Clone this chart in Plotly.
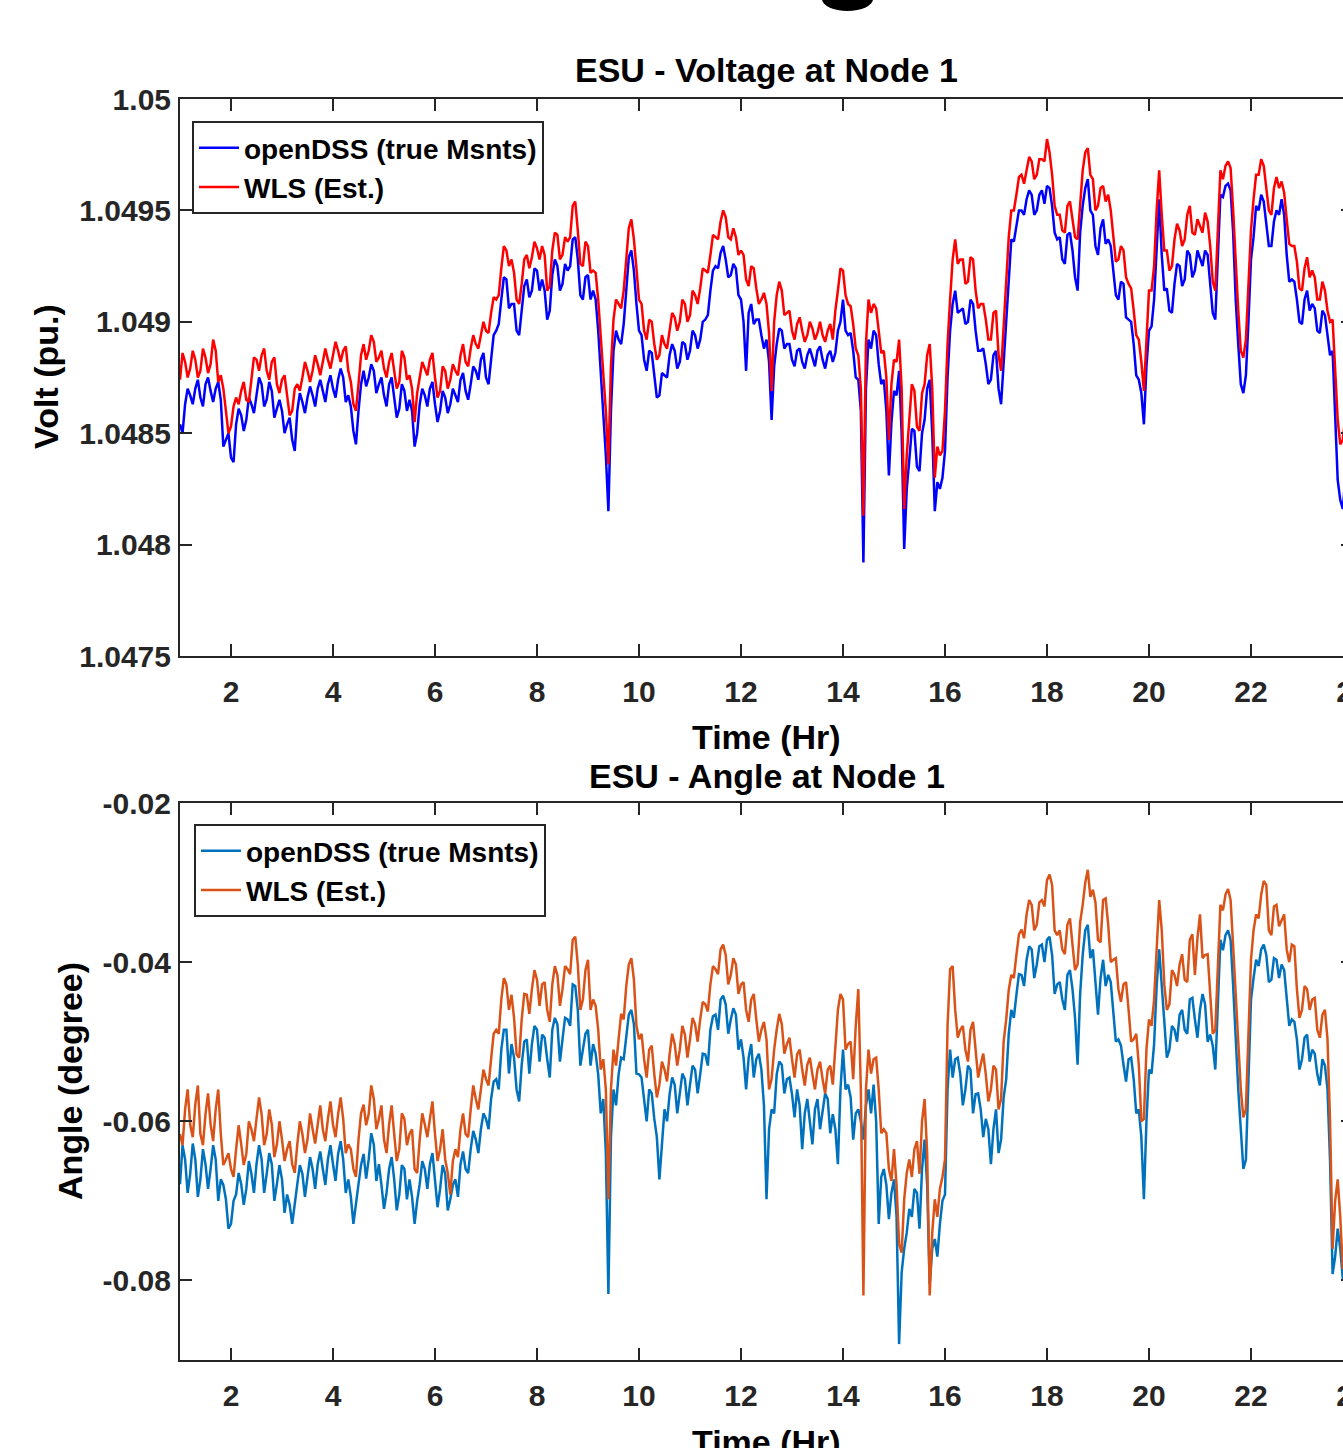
import plotly.graph_objects as go

# ---------------- data ----------------
# samples every 0.1 h from 1.0 h to 24.0 h
hours = [round(1.0 + 0.1 * i, 1) for i in range(231)]
# in-between samples (t + 0.05 h) that carry the short-term fluctuation
hours_mid = [round(1.05 + 0.1 * i, 2) for i in range(230)]

volt_opendss = [
    1.04854, 1.04863, 1.04867, 1.04870, 1.04866, 1.04872, 1.04869, 1.04870, 1.04865, 1.04847,
    1.04839, 1.04854, 1.04858, 1.04856, 1.04863, 1.04867, 1.04872, 1.04865, 1.04869, 1.04861,
    1.04860, 1.04854, 1.04847, 1.04860, 1.04864, 1.04866, 1.04867, 1.04870, 1.04869, 1.04872,
    1.04870, 1.04874, 1.04875, 1.04867, 1.04851, 1.04860, 1.04878, 1.04875, 1.04878, 1.04872,
    1.04867, 1.04872, 1.04866, 1.04861, 1.04869, 1.04865, 1.04844, 1.04863, 1.04867, 1.04870,
    1.04863, 1.04860, 1.04866, 1.04863, 1.04867, 1.04874, 1.04869, 1.04872, 1.04878, 1.04883,
    1.04875, 1.04883, 1.04896, 1.04910, 1.04919, 1.04908, 1.04896, 1.04905, 1.04919, 1.04914,
    1.04923, 1.04919, 1.04901, 1.04921, 1.04925, 1.04917, 1.04923, 1.04937, 1.04928, 1.04910,
    1.04921, 1.04914, 1.04896, 1.04860, 1.04815, 1.04887, 1.04892, 1.04899, 1.04929, 1.04923,
    1.04896, 1.04883, 1.04887, 1.04875, 1.04867, 1.04876, 1.04885, 1.04887, 1.04882, 1.04890,
    1.04887, 1.04894, 1.04892, 1.04901, 1.04914, 1.04925, 1.04931, 1.04928, 1.04921, 1.04924,
    1.04910, 1.04878, 1.04908, 1.04901, 1.04894, 1.04892, 1.04856, 1.04890, 1.04896, 1.04890,
    1.04883, 1.04887, 1.04882, 1.04885, 1.04884, 1.04887, 1.04883, 1.04885, 1.04882, 1.04896,
    1.04910, 1.04894, 1.04887, 1.04874, 1.04792, 1.04892, 1.04896, 1.04881, 1.04874, 1.04831,
    1.04869, 1.04878, 1.04798, 1.04838, 1.04851, 1.04833, 1.04856, 1.04874, 1.04815, 1.04825,
    1.04842, 1.04896, 1.04914, 1.04905, 1.04899, 1.04910, 1.04896, 1.04887, 1.04881, 1.04874,
    1.04887, 1.04863, 1.04896, 1.04937, 1.04943, 1.04950, 1.04955, 1.04957, 1.04950, 1.04959,
    1.04961, 1.04952, 1.04937, 1.04928, 1.04939, 1.04932, 1.04914, 1.04952, 1.04964, 1.04948,
    1.04930, 1.04946, 1.04937, 1.04923, 1.04910, 1.04917, 1.04901, 1.04890, 1.04874, 1.04854,
    1.04896, 1.04910, 1.04955, 1.04914, 1.04905, 1.04917, 1.04925, 1.04919, 1.04930, 1.04923,
    1.04928, 1.04932, 1.04917, 1.04901, 1.04957, 1.04961, 1.04959, 1.04910, 1.04872, 1.04876,
    1.04928, 1.04952, 1.04957, 1.04943, 1.04934, 1.04950, 1.04955, 1.04930, 1.04919, 1.04910,
    1.04899, 1.04914, 1.04908, 1.04896, 1.04905, 1.04894, 1.04887, 1.04829, 1.04816, 1.04833,
    1.04847,
]
volt_opendss_mid = [
    1.04850, 1.04870, 1.04863, 1.04874, 1.04862, 1.04875, 1.04864, 1.04873, 1.04844, 1.04850,
    1.04837, 1.04861, 1.04851, 1.04866, 1.04859, 1.04875, 1.04862, 1.04873, 1.04857, 1.04865,
    1.04850, 1.04857, 1.04842, 1.04868, 1.04859, 1.04871, 1.04862, 1.04874, 1.04864, 1.04876,
    1.04866, 1.04879, 1.04864, 1.04862, 1.04845, 1.04872, 1.04871, 1.04881, 1.04868, 1.04875,
    1.04862, 1.04875, 1.04857, 1.04872, 1.04860, 1.04860, 1.04850, 1.04870, 1.04862, 1.04873,
    1.04855, 1.04869, 1.04859, 1.04870, 1.04864, 1.04877, 1.04865, 1.04880, 1.04874, 1.04886,
    1.04872, 1.04894, 1.04899, 1.04920, 1.04906, 1.04908, 1.04894, 1.04916, 1.04911, 1.04924,
    1.04914, 1.04914, 1.04905, 1.04928, 1.04914, 1.04926, 1.04925, 1.04938, 1.04912, 1.04920,
    1.04910, 1.04910, 1.04878, 1.04840, 1.04860, 1.04896, 1.04890, 1.04915, 1.04932, 1.04908,
    1.04894, 1.04878, 1.04886, 1.04866, 1.04877, 1.04875, 1.04890, 1.04879, 1.04891, 1.04883,
    1.04896, 1.04888, 1.04900, 1.04903, 1.04923, 1.04924, 1.04934, 1.04920, 1.04926, 1.04912,
    1.04900, 1.04904, 1.04899, 1.04901, 1.04888, 1.04882, 1.04880, 1.04897, 1.04888, 1.04890,
    1.04880, 1.04888, 1.04879, 1.04888, 1.04880, 1.04889, 1.04879, 1.04887, 1.04886, 1.04900,
    1.04896, 1.04895, 1.04875, 1.04860, 1.04870, 1.04888, 1.04894, 1.04872, 1.04860, 1.04855,
    1.04867, 1.04850, 1.04825, 1.04852, 1.04835, 1.04850, 1.04870, 1.04850, 1.04828, 1.04830,
    1.04875, 1.04908, 1.04904, 1.04906, 1.04900, 1.04908, 1.04887, 1.04888, 1.04872, 1.04885,
    1.04870, 1.04882, 1.04920, 1.04936, 1.04950, 1.04948, 1.04959, 1.04948, 1.04957, 1.04953,
    1.04960, 1.04940, 1.04938, 1.04926, 1.04940, 1.04920, 1.04940, 1.04960, 1.04950, 1.04934,
    1.04942, 1.04935, 1.04934, 1.04912, 1.04918, 1.04902, 1.04900, 1.04876, 1.04868, 1.04880,
    1.04898, 1.04930, 1.04930, 1.04915, 1.04904, 1.04926, 1.04916, 1.04932, 1.04920, 1.04932,
    1.04925, 1.04930, 1.04904, 1.04930, 1.04956, 1.04962, 1.04940, 1.04890, 1.04868, 1.04900,
    1.04938, 1.04950, 1.04954, 1.04934, 1.04945, 1.04948, 1.04948, 1.04918, 1.04918, 1.04900,
    1.04910, 1.04905, 1.04906, 1.04895, 1.04903, 1.04885, 1.04860, 1.04820, 1.04830, 1.04838,
]

volt_wls = [
    1.04874, 1.04882, 1.04879, 1.04883, 1.04878, 1.04884, 1.04881, 1.04887, 1.04876, 1.04860,
    1.04853, 1.04866, 1.04869, 1.04865, 1.04874, 1.04883, 1.04885, 1.04878, 1.04882, 1.04872,
    1.04874, 1.04867, 1.04860, 1.04872, 1.04875, 1.04878, 1.04878, 1.04881, 1.04882, 1.04883,
    1.04885, 1.04887, 1.04887, 1.04878, 1.04863, 1.04872, 1.04890, 1.04887, 1.04891, 1.04884,
    1.04879, 1.04882, 1.04878, 1.04873, 1.04884, 1.04876, 1.04855, 1.04875, 1.04879, 1.04883,
    1.04875, 1.04869, 1.04878, 1.04874, 1.04878, 1.04885, 1.04882, 1.04888, 1.04890, 1.04894,
    1.04896, 1.04904, 1.04910, 1.04924, 1.04932, 1.04928, 1.04910, 1.04917, 1.04930, 1.04929,
    1.04933, 1.04934, 1.04914, 1.04932, 1.04939, 1.04930, 1.04936, 1.04952, 1.04941, 1.04925,
    1.04934, 1.04923, 1.04910, 1.04874, 1.04836, 1.04901, 1.04908, 1.04914, 1.04942, 1.04937,
    1.04910, 1.04896, 1.04901, 1.04890, 1.04885, 1.04890, 1.04896, 1.04902, 1.04900, 1.04908,
    1.04903, 1.04912, 1.04915, 1.04923, 1.04930, 1.04938, 1.04945, 1.04947, 1.04937, 1.04938,
    1.04932, 1.04919, 1.04925, 1.04915, 1.04910, 1.04908, 1.04869, 1.04912, 1.04914, 1.04904,
    1.04896, 1.04899, 1.04896, 1.04894, 1.04897, 1.04895, 1.04894, 1.04896, 1.04892, 1.04914,
    1.04923, 1.04908, 1.04899, 1.04885, 1.04813, 1.04910, 1.04908, 1.04896, 1.04887, 1.04847,
    1.04883, 1.04892, 1.04816, 1.04856, 1.04869, 1.04851, 1.04872, 1.04890, 1.04830, 1.04840,
    1.04860, 1.04910, 1.04937, 1.04928, 1.04917, 1.04929, 1.04914, 1.04908, 1.04901, 1.04892,
    1.04905, 1.04878, 1.04917, 1.04950, 1.04957, 1.04966, 1.04968, 1.04972, 1.04966, 1.04973,
    1.04982, 1.04966, 1.04948, 1.04941, 1.04952, 1.04946, 1.04937, 1.04968, 1.04978, 1.04964,
    1.04952, 1.04961, 1.04957, 1.04937, 1.04928, 1.04932, 1.04917, 1.04905, 1.04892, 1.04869,
    1.04914, 1.04925, 1.04968, 1.04932, 1.04923, 1.04937, 1.04941, 1.04937, 1.04952, 1.04939,
    1.04943, 1.04949, 1.04934, 1.04914, 1.04968, 1.04970, 1.04969, 1.04925, 1.04887, 1.04892,
    1.04941, 1.04966, 1.04973, 1.04959, 1.04948, 1.04965, 1.04963, 1.04946, 1.04934, 1.04927,
    1.04914, 1.04929, 1.04923, 1.04910, 1.04918, 1.04905, 1.04901, 1.04856, 1.04847, 1.04856,
    1.04865,
]
volt_wls_mid = [
    1.04886, 1.04875, 1.04887, 1.04875, 1.04888, 1.04877, 1.04892, 1.04873, 1.04870, 1.04850,
    1.04862, 1.04863, 1.04873, 1.04864, 1.04884, 1.04878, 1.04888, 1.04874, 1.04884, 1.04868,
    1.04876, 1.04858, 1.04870, 1.04869, 1.04882, 1.04873, 1.04885, 1.04876, 1.04888, 1.04879,
    1.04891, 1.04882, 1.04889, 1.04873, 1.04860, 1.04885, 1.04883, 1.04894, 1.04882, 1.04887,
    1.04875, 1.04886, 1.04870, 1.04887, 1.04874, 1.04870, 1.04868, 1.04882, 1.04876, 1.04886,
    1.04866, 1.04880, 1.04870, 1.04881, 1.04876, 1.04890, 1.04880, 1.04894, 1.04888, 1.04900,
    1.04895, 1.04911, 1.04912, 1.04934, 1.04925, 1.04922, 1.04908, 1.04928, 1.04924, 1.04936,
    1.04928, 1.04930, 1.04916, 1.04940, 1.04928, 1.04938, 1.04938, 1.04954, 1.04926, 1.04936,
    1.04922, 1.04922, 1.04892, 1.04860, 1.04880, 1.04910, 1.04906, 1.04930, 1.04946, 1.04924,
    1.04908, 1.04892, 1.04900, 1.04883, 1.04894, 1.04888, 1.04904, 1.04896, 1.04910, 1.04900,
    1.04914, 1.04908, 1.04924, 1.04922, 1.04939, 1.04937, 1.04950, 1.04938, 1.04942, 1.04930,
    1.04930, 1.04916, 1.04924, 1.04908, 1.04913, 1.04895, 1.04900, 1.04918, 1.04903, 1.04905,
    1.04892, 1.04902, 1.04891, 1.04900, 1.04892, 1.04900, 1.04891, 1.04899, 1.04905, 1.04924,
    1.04912, 1.04907, 1.04888, 1.04870, 1.04890, 1.04904, 1.04906, 1.04886, 1.04875, 1.04872,
    1.04882, 1.04870, 1.04840, 1.04872, 1.04853, 1.04868, 1.04885, 1.04870, 1.04844, 1.04842,
    1.04890, 1.04928, 1.04926, 1.04928, 1.04918, 1.04928, 1.04906, 1.04908, 1.04892, 1.04904,
    1.04885, 1.04900, 1.04938, 1.04950, 1.04965, 1.04962, 1.04974, 1.04964, 1.04973, 1.04972,
    1.04976, 1.04952, 1.04948, 1.04940, 1.04954, 1.04938, 1.04955, 1.04976, 1.04966, 1.04950,
    1.04960, 1.04954, 1.04950, 1.04927, 1.04934, 1.04920, 1.04915, 1.04894, 1.04882, 1.04895,
    1.04914, 1.04950, 1.04948, 1.04932, 1.04925, 1.04944, 1.04934, 1.04948, 1.04940, 1.04946,
    1.04940, 1.04945, 1.04918, 1.04945, 1.04964, 1.04972, 1.04950, 1.04905, 1.04884, 1.04915,
    1.04955, 1.04966, 1.04970, 1.04950, 1.04960, 1.04960, 1.04958, 1.04935, 1.04934, 1.04915,
    1.04924, 1.04920, 1.04920, 1.04910, 1.04914, 1.04900, 1.04880, 1.04845, 1.04858, 1.04860,
]

angle_opendss = [
    -0.0679, -0.0648, -0.0666, -0.0648, -0.0673, -0.0654, -0.0660, -0.0648, -0.0673, -0.0698,
    -0.0729, -0.0692, -0.0679, -0.0685, -0.0666, -0.0654, -0.0648, -0.0666, -0.0654, -0.0679,
    -0.0673, -0.0692, -0.0729, -0.0679, -0.0666, -0.0673, -0.0660, -0.0654, -0.0660, -0.0648,
    -0.0654, -0.0641, -0.0648, -0.0673, -0.0729, -0.0679, -0.0641, -0.0648, -0.0629, -0.0654,
    -0.0710, -0.0660, -0.0673, -0.0692, -0.0660, -0.0673, -0.0729, -0.0679, -0.0660, -0.0654,
    -0.0673, -0.0685, -0.0666, -0.0698, -0.0673, -0.0654, -0.0660, -0.0635, -0.0623, -0.0610,
    -0.0597, -0.0572, -0.0547, -0.0510, -0.0485, -0.0503, -0.0560, -0.0529, -0.0497, -0.0503,
    -0.0485, -0.0491, -0.0522, -0.0485, -0.0478, -0.0497, -0.0472, -0.0428, -0.0460, -0.0510,
    -0.0485, -0.0503, -0.0541, -0.0572, -0.0817, -0.0560, -0.0541, -0.0522, -0.0466, -0.0478,
    -0.0541, -0.0572, -0.0560, -0.0597, -0.0673, -0.0585, -0.0566, -0.0554, -0.0566, -0.0547,
    -0.0554, -0.0535, -0.0541, -0.0516, -0.0485, -0.0466, -0.0447, -0.0453, -0.0472, -0.0466,
    -0.0497, -0.0560, -0.0503, -0.0522, -0.0535, -0.0698, -0.0585, -0.0541, -0.0529, -0.0547,
    -0.0566, -0.0560, -0.0635, -0.0572, -0.0629, -0.0572, -0.0585, -0.0572, -0.0591, -0.0654,
    -0.0510, -0.0554, -0.0623, -0.0585, -0.0623, -0.0560, -0.0554, -0.0729, -0.0660, -0.0723,
    -0.0673, -0.0880, -0.0760, -0.0710, -0.0685, -0.0735, -0.0623, -0.0804, -0.0748, -0.0729,
    -0.0692, -0.0510, -0.0522, -0.0541, -0.0560, -0.0535, -0.0566, -0.0585, -0.0597, -0.0654,
    -0.0585, -0.0623, -0.0547, -0.0460, -0.0441, -0.0416, -0.0397, -0.0384, -0.0403, -0.0378,
    -0.0372, -0.0391, -0.0428, -0.0447, -0.0416, -0.0434, -0.0529, -0.0391, -0.0353, -0.0384,
    -0.0466, -0.0397, -0.0416, -0.0460, -0.0497, -0.0529, -0.0522, -0.0547, -0.0585, -0.0698,
    -0.0535, -0.0503, -0.0384, -0.0485, -0.0510, -0.0485, -0.0466, -0.0485, -0.0447, -0.0472,
    -0.0460, -0.0453, -0.0491, -0.0535, -0.0372, -0.0366, -0.0372, -0.0497, -0.0610, -0.0648,
    -0.0447, -0.0397, -0.0384, -0.0391, -0.0422, -0.0397, -0.0403, -0.0441, -0.0472, -0.0497,
    -0.0522, -0.0491, -0.0510, -0.0541, -0.0522, -0.0560, -0.0792, -0.0735, -0.0798, -0.0748,
    -0.0723,
]
angle_opendss_mid = [
    -0.0630, -0.0690, -0.0628, -0.0695, -0.0635, -0.0685, -0.0630, -0.0700, -0.0680, -0.0735,
    -0.0700, -0.0665, -0.0705, -0.0650, -0.0690, -0.0630, -0.0690, -0.0640, -0.0700, -0.0655,
    -0.0715, -0.0705, -0.0700, -0.0655, -0.0695, -0.0645, -0.0685, -0.0638, -0.0680, -0.0630,
    -0.0675, -0.0625, -0.0690, -0.0695, -0.0700, -0.0655, -0.0672, -0.0615, -0.0675, -0.0680,
    -0.0690, -0.0645, -0.0712, -0.0655, -0.0698, -0.0695, -0.0700, -0.0650, -0.0685, -0.0640,
    -0.0708, -0.0655, -0.0712, -0.0680, -0.0695, -0.0638, -0.0665, -0.0612, -0.0640, -0.0590,
    -0.0610, -0.0550, -0.0560, -0.0485, -0.0540, -0.0520, -0.0575, -0.0500, -0.0540, -0.0480,
    -0.0525, -0.0495, -0.0545, -0.0470, -0.0525, -0.0470, -0.0480, -0.0430, -0.0530, -0.0490,
    -0.0530, -0.0515, -0.0590, -0.0640, -0.0620, -0.0580, -0.0520, -0.0490, -0.0460, -0.0540,
    -0.0545, -0.0600, -0.0565, -0.0620, -0.0625, -0.0600, -0.0545, -0.0590, -0.0540, -0.0580,
    -0.0530, -0.0565, -0.0515, -0.0530, -0.0468, -0.0485, -0.0442, -0.0490, -0.0458, -0.0510,
    -0.0520, -0.0520, -0.0545, -0.0515, -0.0580, -0.0610, -0.0590, -0.0525, -0.0565, -0.0545,
    -0.0595, -0.0580, -0.0590, -0.0600, -0.0585, -0.0610, -0.0565, -0.0615, -0.0610, -0.0560,
    -0.0560, -0.0570, -0.0590, -0.0600, -0.0580, -0.0590, -0.0600, -0.0670, -0.0680, -0.0690,
    -0.0720, -0.0790, -0.0740, -0.0720, -0.0690, -0.0660, -0.0680, -0.0760, -0.0770, -0.0700,
    -0.0560, -0.0545, -0.0520, -0.0580, -0.0530, -0.0590, -0.0565, -0.0620, -0.0610, -0.0610,
    -0.0640, -0.0570, -0.0490, -0.0470, -0.0415, -0.0430, -0.0380, -0.0420, -0.0380, -0.0400,
    -0.0368, -0.0440, -0.0425, -0.0460, -0.0410, -0.0470, -0.0440, -0.0360, -0.0395, -0.0420,
    -0.0420, -0.0430, -0.0425, -0.0500, -0.0505, -0.0550, -0.0520, -0.0590, -0.0620, -0.0600,
    -0.0540, -0.0430, -0.0430, -0.0520, -0.0480, -0.0500, -0.0460, -0.0490, -0.0445, -0.0495,
    -0.0440, -0.0500, -0.0505, -0.0440, -0.0385, -0.0360, -0.0430, -0.0560, -0.0660, -0.0540,
    -0.0420, -0.0405, -0.0378, -0.0425, -0.0395, -0.0420, -0.0410, -0.0480, -0.0475, -0.0535,
    -0.0495, -0.0525, -0.0515, -0.0555, -0.0530, -0.0650, -0.0770, -0.0760, -0.0770, -0.0740,
]

angle_wls = [
    -0.0616, -0.0585, -0.0604, -0.0579, -0.0616, -0.0591, -0.0604, -0.0585, -0.0616, -0.0648,
    -0.0660, -0.0635, -0.0629, -0.0641, -0.0610, -0.0597, -0.0591, -0.0616, -0.0604, -0.0629,
    -0.0623, -0.0635, -0.0654, -0.0629, -0.0616, -0.0623, -0.0610, -0.0604, -0.0610, -0.0597,
    -0.0604, -0.0591, -0.0597, -0.0629, -0.0660, -0.0623, -0.0579, -0.0591, -0.0572, -0.0597,
    -0.0623, -0.0604, -0.0616, -0.0635, -0.0597, -0.0616, -0.0660, -0.0623, -0.0604, -0.0597,
    -0.0616, -0.0635, -0.0648, -0.0692, -0.0635, -0.0610, -0.0616, -0.0585, -0.0572, -0.0560,
    -0.0547, -0.0522, -0.0485, -0.0447, -0.0428, -0.0441, -0.0516, -0.0472, -0.0441, -0.0434,
    -0.0422, -0.0428, -0.0460, -0.0428, -0.0416, -0.0434, -0.0409, -0.0372, -0.0403, -0.0447,
    -0.0397, -0.0447, -0.0485, -0.0522, -0.0698, -0.0510, -0.0497, -0.0472, -0.0403, -0.0422,
    -0.0497, -0.0522, -0.0510, -0.0541, -0.0554, -0.0535, -0.0516, -0.0503, -0.0510, -0.0491,
    -0.0497, -0.0478, -0.0472, -0.0453, -0.0428, -0.0409, -0.0384, -0.0391, -0.0416, -0.0403,
    -0.0428, -0.0460, -0.0447, -0.0472, -0.0485, -0.0497, -0.0547, -0.0485, -0.0478, -0.0503,
    -0.0522, -0.0516, -0.0535, -0.0529, -0.0541, -0.0535, -0.0547, -0.0535, -0.0554, -0.0460,
    -0.0447, -0.0503, -0.0547, -0.0434, -0.0819, -0.0510, -0.0522, -0.0560, -0.0610, -0.0660,
    -0.0635, -0.0754, -0.0698, -0.0648, -0.0635, -0.0666, -0.0572, -0.0819, -0.0698, -0.0685,
    -0.0648, -0.0409, -0.0460, -0.0485, -0.0510, -0.0485, -0.0516, -0.0529, -0.0541, -0.0560,
    -0.0535, -0.0572, -0.0472, -0.0416, -0.0391, -0.0359, -0.0340, -0.0328, -0.0353, -0.0322,
    -0.0297, -0.0303, -0.0366, -0.0384, -0.0353, -0.0378, -0.0403, -0.0328, -0.0284, -0.0309,
    -0.0372, -0.0322, -0.0353, -0.0397, -0.0434, -0.0428, -0.0460, -0.0497, -0.0529, -0.0597,
    -0.0472, -0.0447, -0.0322, -0.0428, -0.0453, -0.0416, -0.0403, -0.0422, -0.0372, -0.0416,
    -0.0340, -0.0391, -0.0434, -0.0485, -0.0328, -0.0315, -0.0322, -0.0447, -0.0560, -0.0585,
    -0.0397, -0.0340, -0.0315, -0.0303, -0.0366, -0.0328, -0.0347, -0.0384, -0.0378, -0.0434,
    -0.0460, -0.0434, -0.0447, -0.0485, -0.0466, -0.0497, -0.0760, -0.0673, -0.0786, -0.0698,
    -0.0673,
]
angle_wls_mid = [
    -0.0630, -0.0560, -0.0620, -0.0555, -0.0630, -0.0565, -0.0625, -0.0560, -0.0655, -0.0640,
    -0.0670, -0.0605, -0.0655, -0.0600, -0.0625, -0.0570, -0.0630, -0.0585, -0.0645, -0.0600,
    -0.0650, -0.0625, -0.0665, -0.0600, -0.0640, -0.0590, -0.0628, -0.0580, -0.0625, -0.0575,
    -0.0620, -0.0570, -0.0640, -0.0635, -0.0670, -0.0590, -0.0605, -0.0555, -0.0610, -0.0580,
    -0.0640, -0.0580, -0.0650, -0.0590, -0.0630, -0.0610, -0.0665, -0.0590, -0.0620, -0.0575,
    -0.0650, -0.0610, -0.0665, -0.0650, -0.0645, -0.0590, -0.0620, -0.0555, -0.0585, -0.0535,
    -0.0555, -0.0490, -0.0490, -0.0420, -0.0460, -0.0470, -0.0520, -0.0440, -0.0465, -0.0410,
    -0.0455, -0.0425, -0.0475, -0.0405, -0.0455, -0.0405, -0.0415, -0.0368, -0.0460, -0.0410,
    -0.0460, -0.0455, -0.0535, -0.0560, -0.0560, -0.0530, -0.0465, -0.0430, -0.0395, -0.0480,
    -0.0490, -0.0545, -0.0505, -0.0570, -0.0525, -0.0550, -0.0490, -0.0530, -0.0480, -0.0520,
    -0.0470, -0.0500, -0.0450, -0.0462, -0.0405, -0.0415, -0.0378, -0.0428, -0.0395, -0.0440,
    -0.0425, -0.0475, -0.0440, -0.0500, -0.0475, -0.0560, -0.0510, -0.0465, -0.0515, -0.0495,
    -0.0545, -0.0510, -0.0555, -0.0520, -0.0560, -0.0525, -0.0565, -0.0530, -0.0500, -0.0440,
    -0.0510, -0.0500, -0.0480, -0.0560, -0.0560, -0.0540, -0.0520, -0.0615, -0.0615, -0.0675,
    -0.0680, -0.0765, -0.0665, -0.0670, -0.0625, -0.0600, -0.0640, -0.0740, -0.0720, -0.0670,
    -0.0480, -0.0405, -0.0495, -0.0480, -0.0525, -0.0475, -0.0545, -0.0515, -0.0575, -0.0530,
    -0.0585, -0.0500, -0.0435, -0.0420, -0.0365, -0.0370, -0.0322, -0.0360, -0.0325, -0.0330,
    -0.0290, -0.0360, -0.0360, -0.0390, -0.0345, -0.0410, -0.0350, -0.0300, -0.0318, -0.0325,
    -0.0375, -0.0320, -0.0400, -0.0395, -0.0450, -0.0425, -0.0500, -0.0490, -0.0600, -0.0510,
    -0.0480, -0.0380, -0.0360, -0.0460, -0.0410, -0.0430, -0.0390, -0.0425, -0.0365, -0.0370,
    -0.0395, -0.0390, -0.0490, -0.0400, -0.0335, -0.0308, -0.0380, -0.0500, -0.0595, -0.0480,
    -0.0360, -0.0345, -0.0298, -0.0360, -0.0330, -0.0355, -0.0340, -0.0400, -0.0380, -0.0470,
    -0.0430, -0.0460, -0.0445, -0.0495, -0.0460, -0.0600, -0.0700, -0.0720, -0.0740, -0.0690,
]

x_tickvals = [2, 4, 6, 8, 10, 12, 14, 16, 18, 20, 22, 24]
x_ticktext = ["2", "4", "6", "8", "10", "12", "14", "16", "18", "20", "22", "24"]
volt_tickvals = [1.0475, 1.048, 1.0485, 1.049, 1.0495, 1.05]
volt_ticktext = ["1.0475", "1.048", "1.0485", "1.049", "1.0495", "1.05"]
angle_tickvals = [-0.08, -0.06, -0.04, -0.02]
angle_ticktext = ["-0.08", "-0.06", "-0.04", "-0.02"]

series_names = ["openDSS (true Msnts)", "WLS (Est.)"]


def merge(t_main, v_main, t_mid, v_mid):
    """Put main samples and in-between samples in time order."""
    ts, vs = [], []
    for i in range(len(t_main)):
        ts.append(t_main[i])
        vs.append(v_main[i])
        if i < len(t_mid):
            ts.append(t_mid[i])
            vs.append(v_mid[i])
    return ts, vs


t_vo, v_vo = merge(hours, volt_opendss, hours_mid, volt_opendss_mid)
t_vw, v_vw = merge(hours, volt_wls, hours_mid, volt_wls_mid)
t_ao, v_ao = merge(hours, angle_opendss, hours_mid, angle_opendss_mid)
t_aw, v_aw = merge(hours, angle_wls, hours_mid, angle_wls_mid)

# ---------------- figure ----------------
FONT = "Liberation Sans, Arial, Helvetica, sans-serif"
AX = "#262626"
W, H = 1400, 1448
ML, MR = 180, 47
LW = 2.5

fig = go.Figure()
fig.add_trace(go.Scatter(x=t_vo, y=v_vo, mode="lines", name=series_names[0],
                         line=dict(color="#0000FF", width=LW), xaxis="x", yaxis="y",
                         legend="legend"))
fig.add_trace(go.Scatter(x=t_vw, y=v_vw, mode="lines", name=series_names[1],
                         line=dict(color="#FF0000", width=LW), xaxis="x", yaxis="y",
                         legend="legend"))
fig.add_trace(go.Scatter(x=t_ao, y=v_ao, mode="lines", name=series_names[0],
                         line=dict(color="#0072BD", width=LW), xaxis="x2", yaxis="y2",
                         legend="legend2"))
fig.add_trace(go.Scatter(x=t_aw, y=v_aw, mode="lines", name=series_names[1],
                         line=dict(color="#D95319", width=LW), xaxis="x2", yaxis="y2",
                         legend="legend2"))


def ypaper(px):
    return 1 - px / H


def xpaper(px):
    return (px - ML) / (W - ML - MR)


axis_common = dict(showline=True, linecolor=AX, linewidth=2, mirror="ticks",
                   ticks="inside", ticklen=12, tickwidth=2, tickcolor=AX,
                   showgrid=False, zeroline=False, automargin=False,
                   tickfont=dict(family=FONT, size=30, color=AX, weight="bold"))

legend_font = dict(family=FONT, size=28, color="black", weight="bold")

fig.update_layout(
    template="none",
    width=W, height=H,
    margin=dict(l=ML, r=MR, t=0, b=0, pad=0, autoexpand=False),
    paper_bgcolor="white", plot_bgcolor="white",
    xaxis=dict(domain=[0, 1], anchor="y", range=[1, 24], tickvals=x_tickvals,
               ticktext=x_ticktext, ticklabelstandoff=8, **axis_common),
    yaxis=dict(domain=[ypaper(656), ypaper(99)], anchor="x", range=[1.0475, 1.05],
               tickvals=volt_tickvals, ticktext=volt_ticktext, ticklabelstandoff=1,
               **axis_common),
    xaxis2=dict(domain=[0, 1], anchor="y2", range=[1, 24], tickvals=x_tickvals,
                ticktext=x_ticktext, ticklabelstandoff=8, **axis_common),
    yaxis2=dict(domain=[ypaper(1360), ypaper(803)], anchor="x2", range=[-0.09, -0.02],
                tickvals=angle_tickvals, ticktext=angle_ticktext, ticklabelstandoff=1,
                **axis_common),
    legend=dict(x=xpaper(192), y=ypaper(121), xanchor="left", yanchor="top",
                bgcolor="white", bordercolor=AX, borderwidth=2, itemwidth=40,
                font=legend_font),
    legend2=dict(x=xpaper(194), y=ypaper(824), xanchor="left", yanchor="top",
                 bgcolor="white", bordercolor=AX, borderwidth=2, itemwidth=40,
                 font=legend_font),
    showlegend=True,
)

title_font = dict(family=FONT, size=34, color="black", weight="bold")
ann = [
    dict(text="ESU - Voltage at Node 1", x=0.5, y=ypaper(70), xref="paper", yref="paper",
         xanchor="center", yanchor="middle", showarrow=False, font=title_font),
    dict(text="Time (Hr)", x=0.5, y=ypaper(737), xref="paper", yref="paper",
         xanchor="center", yanchor="middle", showarrow=False, font=title_font),
    dict(text="ESU - Angle at Node 1", x=0.5, y=ypaper(776), xref="paper", yref="paper",
         xanchor="center", yanchor="middle", showarrow=False, font=title_font),
    dict(text="Time (Hr)", x=0.5, y=ypaper(1442), xref="paper", yref="paper",
         xanchor="center", yanchor="middle", showarrow=False, font=title_font),
    dict(text="Volt (pu.)", x=xpaper(46), y=ypaper(377), xref="paper", yref="paper",
         xanchor="center", yanchor="middle", showarrow=False, textangle=-90, font=title_font),
    dict(text="Angle (degree)", x=xpaper(70), y=ypaper(1081), xref="paper", yref="paper",
         xanchor="center", yanchor="middle", showarrow=False, textangle=-90, font=title_font),
]
fig.update_layout(annotations=ann)

# partial glyph visible at the top edge of the cropped page
fig.add_shape(type="circle", xref="paper", yref="paper",
              x0=xpaper(822), x1=xpaper(873), y0=ypaper(11), y1=ypaper(-13),
              fillcolor="black", line=dict(width=0), layer="above")

fig.write_html(
    "out.html",
    config={"displayModeBar": False},
    post_script=("document.body.style.margin='0';"
                 "document.body.style.overflow='hidden';"
                 "document.documentElement.style.overflow='hidden';"),
)
